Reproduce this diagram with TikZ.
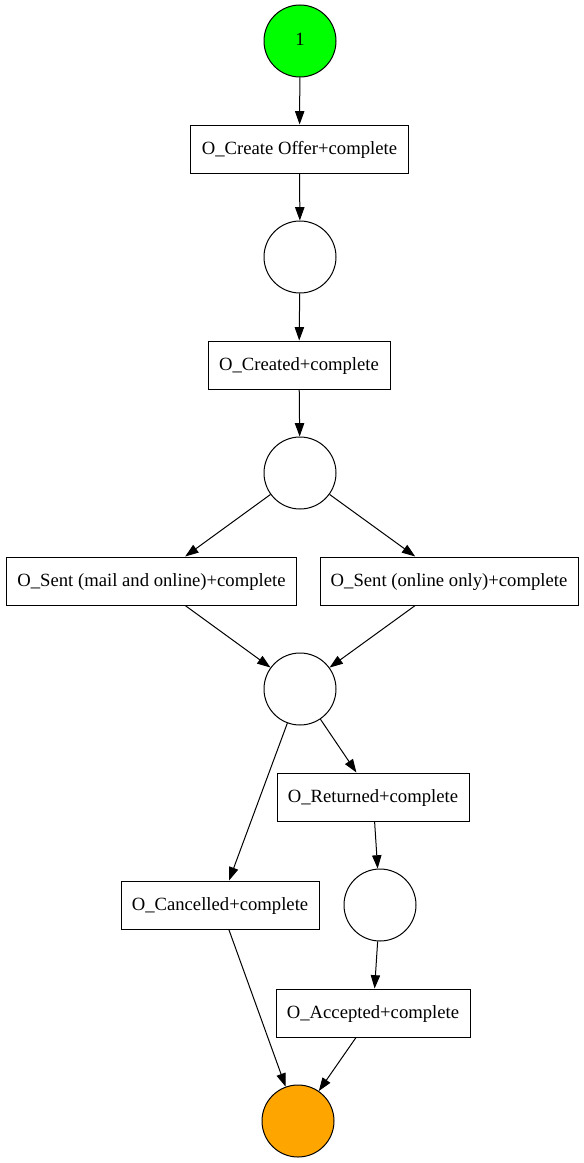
\documentclass[tikz,border=0pt]{standalone}
\usepackage{fontspec}
\setmainfont{Liberation Serif}
\usetikzlibrary{arrows.meta}
\definecolor{pgreen}{HTML}{00FF00}
\definecolor{porange}{HTML}{FFA500}
\begin{document}
\begin{tikzpicture}[x=0.75pt,y=-0.75pt,
  place/.style={circle,draw,line width=0.75pt,minimum size=54pt,inner sep=0pt,font=\fontsize{14pt}{16pt}\selectfont},
  trans/.style={rectangle,draw,line width=0.75pt,minimum height=36pt,inner sep=0pt,text height=11pt,text depth=3.5pt,font=\fontsize{14pt}{16pt}\selectfont},
  arc/.style={draw,line width=0.75pt,-{Triangle[length=10pt,width=7pt]}}]
\useasboundingbox (0,0) rectangle (584,1163);
\node[place,fill=pgreen,text height=11pt,text depth=3.5pt] (p1) at (300,41) {1};
\node[trans,minimum width=163pt] (t1) at (299.5,149) {O\_Create Offer+complete};
\node[place] (p2) at (300,257) {};
\node[trans,minimum width=136.5pt] (t2) at (299,365) {O\_Created+complete};
\node[place] (p3) at (300,473) {};
\node[trans,minimum width=218pt] (t3) at (151.5,581) {O\_Sent (mail and online)+complete};
\node[trans,minimum width=193.5pt] (t4) at (449,581) {O\_Sent (online only)+complete};
\node[place] (p4) at (300,689) {};
\node[trans,minimum width=144pt] (t5) at (373,797) {O\_Returned+complete};
\node[place] (p5) at (380,905) {};
\node[trans,minimum width=148.5pt] (t6) at (220,905) {O\_Cancelled+complete};
\node[trans,minimum width=145.5pt] (t7) at (373,1013) {O\_Accepted+complete};
\node[place,fill=porange] (p6) at (298,1121) {};
\draw[arc] (p1) -- (t1);
\draw[arc] (t1) -- (p2);
\draw[arc] (p2) -- (t2);
\draw[arc] (t2) -- (p3);
\draw[arc] (p3) -- (t3);
\draw[arc] (p3) -- (t4);
\draw[arc] (t3) -- (p4);
\draw[arc] (t4) -- (p4);
\draw[arc] (p4) -- (t5);
\draw[arc] (p4) -- (t6);
\draw[arc] (t5) -- (p5);
\draw[arc] (p5) -- (t7);
\draw[arc] (t6) -- (p6);
\draw[arc] (t7) -- (p6);
\end{tikzpicture}
\end{document}
